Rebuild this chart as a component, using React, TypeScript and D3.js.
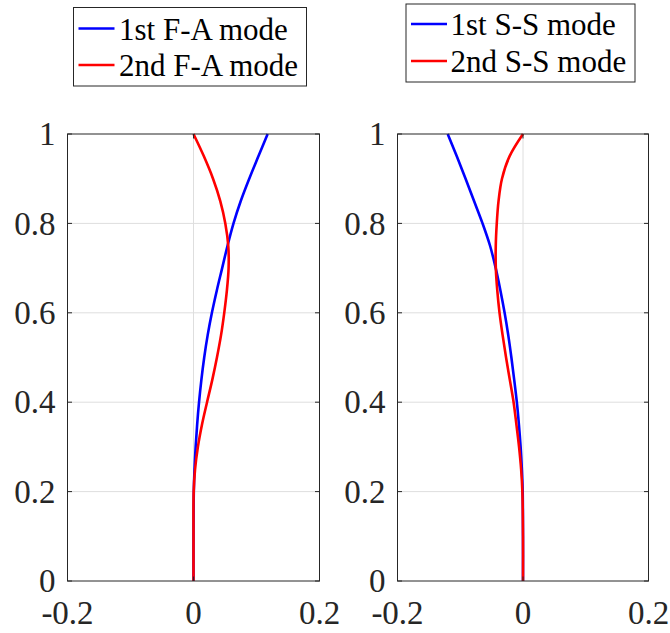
import React from "react";
import * as d3 from "d3";

const heights = [0, 0.1, 0.2, 0.25, 0.3, 0.35, 0.4, 0.45, 0.5, 0.55, 0.6, 0.65, 0.7, 0.75, 0.8, 0.85, 0.9, 0.95, 1];
const fa1 = [0, 0, 0.0005, 0.0016, 0.0034, 0.0058, 0.0088, 0.0125, 0.017, 0.0225, 0.0292, 0.037, 0.0455, 0.054, 0.0635, 0.075, 0.0885, 0.103, 0.1177];
const fa2 = [0, 0, 0.0003, 0.0025, 0.007, 0.0135, 0.0215, 0.0298, 0.0372, 0.0437, 0.0488, 0.053, 0.0557, 0.0552, 0.0505, 0.0425, 0.031, 0.0165, 0];
const ss1 = [0, 0, -0.0005, -0.0018, -0.0038, -0.0065, -0.0098, -0.014, -0.0185, -0.0235, -0.0293, -0.036, -0.0435, -0.0525, -0.0645, -0.078, -0.0915, -0.1055, -0.12];
const ss2 = [0, 0, -0.001, -0.003, -0.0063, -0.0105, -0.015, -0.021, -0.027, -0.0325, -0.0374, -0.041, -0.0433, -0.0434, -0.0418, -0.039, -0.0335, -0.0215, 0];

const xTicks = [-0.2, 0, 0.2];
const yTicks = [0, 0.2, 0.4, 0.6, 0.8, 1];
const legendLeft = ["1st F-A mode", "2nd F-A mode"];
const legendRight = ["1st S-S mode", "2nd S-S mode"];
const colors = ["#0000ff", "#ff0000"];

const FONT = "'Liberation Serif', 'Times New Roman', serif";
const AX = "#262626";
const GRID = "#dedede";

type PanelProps = {
  x0: number;
  x1: number;
  series: number[][];
  labels: string[];
  legend: { x: number; y: number; w: number; h: number; lx: number; tx: number; l1: number; l2: number };
};

function Panel({ x0, x1, series, labels, legend }: PanelProps) {
  const y0 = 134;
  const y1 = 581;
  const xs = d3.scaleLinear().domain([-0.2, 0.2]).range([x0, x1]);
  const ys = d3.scaleLinear().domain([0, 1]).range([y1, y0]);
  const line = d3
    .line<[number, number]>()
    .x((d) => xs(d[0]))
    .y((d) => ys(d[1]))
    .curve(d3.curveCatmullRom.alpha(0.5));
  const tl = 4.5;
  return (
    <g>
      {yTicks.filter((t) => t > 0 && t < 1).map((t) => (
        <line key={"gy" + t} x1={x0} x2={x1} y1={ys(t)} y2={ys(t)} stroke={GRID} strokeWidth={1} />
      ))}
      {xTicks.filter((t) => t > -0.2 && t < 0.2).map((t) => (
        <line key={"gx" + t} x1={xs(t)} x2={xs(t)} y1={y0} y2={y1} stroke={GRID} strokeWidth={1} />
      ))}
      {series.map((s, i) => (
        <path
          key={"s" + i}
          d={line(s.map((v, j) => [v, heights[j]] as [number, number])) || ""}
          fill="none"
          stroke={colors[i]}
          strokeWidth={2.6}
          strokeLinejoin="round"
        />
      ))}
      <rect x={x0} y={y0} width={x1 - x0} height={y1 - y0} fill="none" stroke={AX} strokeWidth={1} />
      {yTicks.map((t) => (
        <g key={"ty" + t}>
          <line x1={x0} x2={x0 + tl} y1={ys(t)} y2={ys(t)} stroke={AX} />
          <line x1={x1} x2={x1 - tl} y1={ys(t)} y2={ys(t)} stroke={AX} />
          <text
            x={x0 - 12}
            y={ys(t)}
            dy="0.34em"
            textAnchor="end"
            fontFamily={FONT}
            fontSize={33}
            fill={AX}
          >
            {String(t)}
          </text>
        </g>
      ))}
      {xTicks.map((t) => (
        <g key={"tx" + t}>
          <line x1={xs(t)} x2={xs(t)} y1={y1} y2={y1 - tl} stroke={AX} />
          <line x1={xs(t)} x2={xs(t)} y1={y0} y2={y0 + tl} stroke={AX} />
          <text
            x={xs(t)}
            y={623.5}
            textAnchor="middle"
            fontFamily={FONT}
            fontSize={33}
            fill={AX}
          >
            {String(t)}
          </text>
        </g>
      ))}
      <rect x={legend.x} y={legend.y} width={legend.w} height={legend.h} fill="#fff" stroke={AX} strokeWidth={1} />
      {labels.map((lab, i) => {
        const ly = i === 0 ? legend.l1 : legend.l2;
        return (
          <g key={"lg" + i}>
            <line x1={legend.lx} x2={legend.lx + 36} y1={ly} y2={ly} stroke={colors[i]} strokeWidth={2.6} />
            <text x={legend.tx} y={ly} dy="0.36em" fontFamily={FONT} fontSize={31} fill="#000">
              {lab}
            </text>
          </g>
        );
      })}
    </g>
  );
}

export default function App() {
  return (
    <svg
      width={670}
      height={633}
      style={{ position: "absolute", left: 0, top: 0, display: "block", background: "#fff" }}
    >
      <rect x={0} y={0} width={670} height={633} fill="#fff" />
      <Panel
        x0={67.5}
        x1={319.5}
        series={[fa1, fa2]}
        labels={legendLeft}
        legend={{ x: 73.5, y: 7.5, w: 233, h: 78.5, lx: 78.5, tx: 119, l1: 28.5, l2: 65 }}
      />
      <Panel
        x0={397.5}
        x1={648.5}
        series={[ss1, ss2]}
        labels={legendRight}
        legend={{ x: 406, y: 4, w: 229, h: 78, lx: 411, tx: 450.5, l1: 24, l2: 61 }}
      />
    </svg>
  );
}
